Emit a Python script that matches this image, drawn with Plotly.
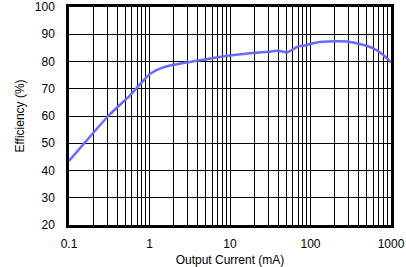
import plotly.graph_objects as go

current_ma = [0.1, 0.158, 0.307, 0.573, 0.762, 1.01, 1.35, 1.98, 3.86, 6.8, 10, 17.7, 29.9, 38, 46, 50.6, 61, 70.6, 85.5, 119, 201, 282, 412, 603, 803, 1000]
efficiency = [43.5, 50.3, 60.0, 67.6, 71.6, 75.4, 77.4, 78.8, 80.25, 81.45, 82.2, 83.0, 83.6, 83.9, 83.6, 83.3, 84.5, 85.6, 85.9, 87.0, 87.4, 87.3, 86.4, 84.8, 82.4, 79.7]

x_ticks = [0.1, 1, 10, 100, 1000]
x_labels = ["0.1", "1", "10", "100", "1000"]
y_ticks = [20, 30, 40, 50, 60, 70, 80, 90, 100]

minor_x = [m * 10 ** e for e in range(-1, 3) for m in range(2, 10)]

fig = go.Figure()
fig.add_trace(go.Scatter(x=current_ma, y=efficiency, mode="lines",
                         line=dict(color="#6a6aff", width=2.5, shape="spline", smoothing=0.6),
                         showlegend=False))

font = dict(family="Liberation Sans, Arial, sans-serif", size=12, color="black")
fig.update_layout(
    width=406, height=267,
    margin=dict(l=69, r=15, t=7, b=42, autoexpand=False),
    plot_bgcolor="white", paper_bgcolor="white",
    font=font,
    xaxis=dict(type="log", range=[-1, 3], tickvals=x_ticks, ticktext=x_labels,
               showgrid=True, gridcolor="black", gridwidth=1,
               minor=dict(tickvals=minor_x, showgrid=True, gridcolor="black", gridwidth=1, ticks=""),
               showline=True, linecolor="black", linewidth=2.5, mirror=True,
               ticks="outside", ticklen=6, tickcolor="rgba(0,0,0,0)",
               zeroline=False, automargin=False, ticklabeloverflow="allow",
               title=dict(text="Output Current (mA)", font=font, standoff=6)),
    yaxis=dict(range=[20, 100], tickvals=y_ticks,
               showgrid=True, gridcolor="black", gridwidth=1,
               showline=True, linecolor="black", linewidth=2.5, mirror=True,
               ticks="outside", ticklen=9, tickcolor="rgba(0,0,0,0)",
               zeroline=False, automargin=False, ticklabeloverflow="allow",
               title=dict(text="Efficiency (%)", font=font, standoff=8)),
)
fig.write_html("out.html")
